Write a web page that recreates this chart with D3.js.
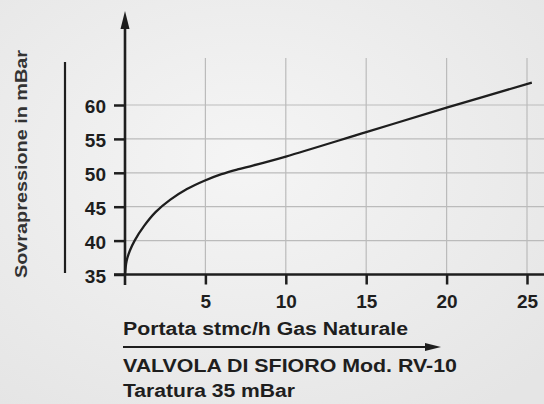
<!DOCTYPE html>
<html>
<head>
<meta charset="utf-8">
<script src="https://cdn.jsdelivr.net/npm/d3@7"></script>
<style>
	body { margin: 0; }
	svg { display: block; font-family: "Liberation Sans", Arial, sans-serif; }
</style>
</head>
<body>
<svg id="chart" width="544" height="404"></svg>
<script>
(function(){

	// curve
	var flow = [0, 0.1, 0.3, 0.6, 1.2, 1.9, 2.8, 3.85, 4.9, 6, 7, 8, 10, 15, 20, 25.3];
	var pressure = [35, 37.0, 38.5, 40, 42.2, 44.2, 46.0, 47.6, 48.8, 49.8, 50.5, 51.1, 52.4, 56, 59.6, 63.3];
	var xTicks = [5, 10, 15, 20, 25];
	var yTicks = [35, 40, 45, 50, 55, 60];

	var ink = "#1e1e1e";
	var font = "Liberation Sans, Arial, sans-serif";

	var svg = d3.select("#chart");

	var defs = svg.append("defs");
	var grad = defs.append("radialGradient")
		.attr("id", "bg")
		.attr("cx", "45%").attr("cy", "40%").attr("r", "75%");
	grad.append("stop").attr("offset", "0%").attr("stop-color", "#f5f5f5");
	grad.append("stop").attr("offset", "100%").attr("stop-color", "#e5e5e5");

	svg.append("rect")
		.attr("width", 544).attr("height", 404)
		.attr("fill", "url(#bg)");

	var x = d3.scaleLinear().domain([0, 25]).range([125, 527]);
	var y = d3.scaleLinear().domain([35, 60]).range([274.5, 105]);

	var g = svg.append("g");

	// grid
	g.selectAll(".hgrid")
		.data(yTicks.slice(1))
		.enter().append("line")
			.attr("class", "hgrid")
			.attr("x1", x(0)).attr("x2", 544)
			.attr("y1", function(d){ return y(d); })
			.attr("y2", function(d){ return y(d); })
			.attr("stroke", "#bbbbbb").attr("stroke-width", 1.2);

	g.selectAll(".vgrid")
		.data(xTicks)
		.enter().append("line")
			.attr("class", "vgrid")
			.attr("x1", function(d){ return x(d); })
			.attr("x2", function(d){ return x(d); })
			.attr("y1", 58).attr("y2", y(35))
			.attr("stroke", "#bbbbbb").attr("stroke-width", 1.2);

	// curve
	var pts = flow.map(function(f, i){ return [f, pressure[i]]; });
	var line = d3.line()
		.x(function(d){ return x(d[0]); })
		.y(function(d){ return y(d[1]); })
		.curve(d3.curveCatmullRom.alpha(0.5));

	g.append("path")
		.datum(pts)
		.attr("d", line)
		.attr("fill", "none")
		.attr("stroke", ink)
		.attr("stroke-width", 2.3);

	// x axis
	var xAxis = g.append("g")
		.attr("transform", "translate(0," + y(35) + ")")
		.call(d3.axisBottom(x).tickValues(xTicks).tickSize(10));
	xAxis.select(".domain").remove();
	xAxis.selectAll(".tick line").attr("stroke", ink).attr("stroke-width", 2.5);
	xAxis.selectAll(".tick text")
		.attr("y", 33.5).attr("dy", null)
		.attr("fill", ink).attr("font-size", "19px").attr("font-weight", "bold")
		.attr("font-family", font);
	g.append("line")
		.attr("x1", 114).attr("x2", 544)
		.attr("y1", y(35)).attr("y2", y(35))
		.attr("stroke", ink).attr("stroke-width", 2.6);

	// y axis
	var yAxis = g.append("g")
		.attr("transform", "translate(" + x(0) + ",0)")
		.call(d3.axisLeft(y).tickValues(yTicks).tickSize(11).tickPadding(8));
	yAxis.select(".domain").remove();
	yAxis.selectAll(".tick line").attr("stroke", ink).attr("stroke-width", 2.5);
	yAxis.selectAll(".tick text")
		.attr("dy", "0.4em")
		.attr("fill", ink).attr("font-size", "19px").attr("font-weight", "bold")
		.attr("font-family", font);

	g.append("line")
		.attr("x1", x(0)).attr("x2", x(0))
		.attr("y1", 22).attr("y2", 285)
		.attr("stroke", ink).attr("stroke-width", 2.6);
	g.append("path")
		.attr("d", "M" + x(0) + ",11 L" + (x(0) - 4.5) + ",29 L" + (x(0) + 4.5) + ",29 Z")
		.attr("fill", ink);

	// y title
	svg.append("line")
		.attr("x1", 65).attr("x2", 65).attr("y1", 62).attr("y2", 273)
		.attr("stroke", ink).attr("stroke-width", 2.2);
	svg.append("text")
		.attr("transform", "translate(27,164) rotate(-90)")
		.attr("text-anchor", "middle")
		.attr("font-size", "17px").attr("font-weight", "bold")
		.attr("fill", "#333")
		.attr("textLength", 228).attr("lengthAdjust", "spacingAndGlyphs")
		.text("Sovrapressione in mBar");

	// x title and caption
	svg.append("text")
		.attr("x", 123).attr("y", 335)
		.attr("font-size", "18px").attr("font-weight", "bold").attr("fill", ink)
		.attr("textLength", 285).attr("lengthAdjust", "spacingAndGlyphs")
		.text("Portata stmc/h Gas Naturale");
	svg.append("line")
		.attr("x1", 123).attr("x2", 430).attr("y1", 347).attr("y2", 347)
		.attr("stroke", ink).attr("stroke-width", 2);
	svg.append("path")
		.attr("d", "M441,347 L425,343 L425,351 Z")
		.attr("fill", ink);
	svg.append("text")
		.attr("x", 123).attr("y", 372)
		.attr("font-size", "18px").attr("font-weight", "bold").attr("fill", ink)
		.attr("textLength", 334).attr("lengthAdjust", "spacingAndGlyphs")
		.text("VALVOLA DI SFIORO Mod. RV-10");
	svg.append("text")
		.attr("x", 123).attr("y", 397)
		.attr("font-size", "18px").attr("font-weight", "bold").attr("fill", ink)
		.attr("textLength", 172).attr("lengthAdjust", "spacingAndGlyphs")
		.text("Taratura 35 mBar");

})();
</script>
</body>
</html>
